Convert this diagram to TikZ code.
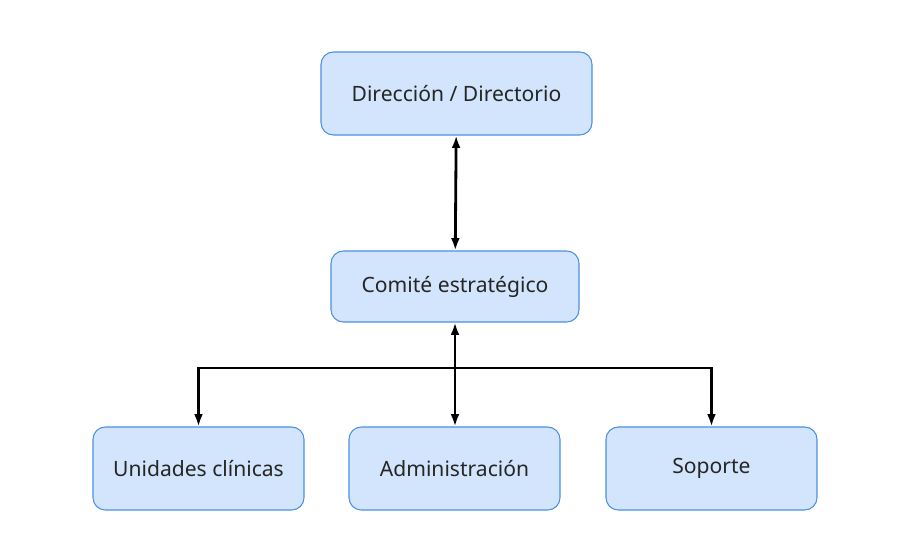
\documentclass[tikz,border=0pt]{standalone}
\usepackage{fontspec}
\setmainfont{Noto Sans}
\usetikzlibrary{positioning, arrows.meta}
\definecolor{boxfill}{HTML}{D2E5FC}
\definecolor{boxline}{HTML}{4A90E2}
\tikzset{
  unit/.style={draw=boxline, fill=boxfill, rounded corners=7pt, line width=0.6pt,
    font=\fontsize{12}{14}\selectfont, text=black!85, inner sep=0pt},
  link/.style={line width=1.6pt, -{Latex[length=7pt,width=5pt]}},
}
\begin{document}
\begin{tikzpicture}[x=0.02cm, y=-0.02cm]
		\useasboundingbox (0,0) rectangle (909,554);
		% Top levels
		\node[unit, minimum width=271*0.02cm, minimum height=83*0.02cm] (dir) at (456.5,93.5) {Dirección / Directorio};
		\node[unit, minimum width=248*0.02cm, minimum height=71*0.02cm] (com) at (455,286.5) {Comité estratégico};
		% Bottom level
		\node[unit, minimum width=211*0.02cm, minimum height=83*0.02cm] (uni) at (198.5,468.5) {Unidades clínicas};
		\node[unit, minimum width=211*0.02cm, minimum height=83*0.02cm] (adm) at (454.5,468.5) {Administración};
		\node[unit, minimum width=211*0.02cm, minimum height=83*0.02cm] (sop) at (711.5,468.5) {Soporte};
		\coordinate (split) at (455,368);

		\draw[link, {Latex[length=7pt,width=5pt]}-{Latex[length=7pt,width=5pt]}] (dir) -- (com);
		\draw[link, {Latex[length=7pt,width=5pt]}-{Latex[length=7pt,width=5pt]}] (com.south -| split) -- (adm.north -| split);
		\draw[link] (split) -| (uni.north);
		\draw[link] (split) -| (sop.north);
	\end{tikzpicture}
\end{document}
